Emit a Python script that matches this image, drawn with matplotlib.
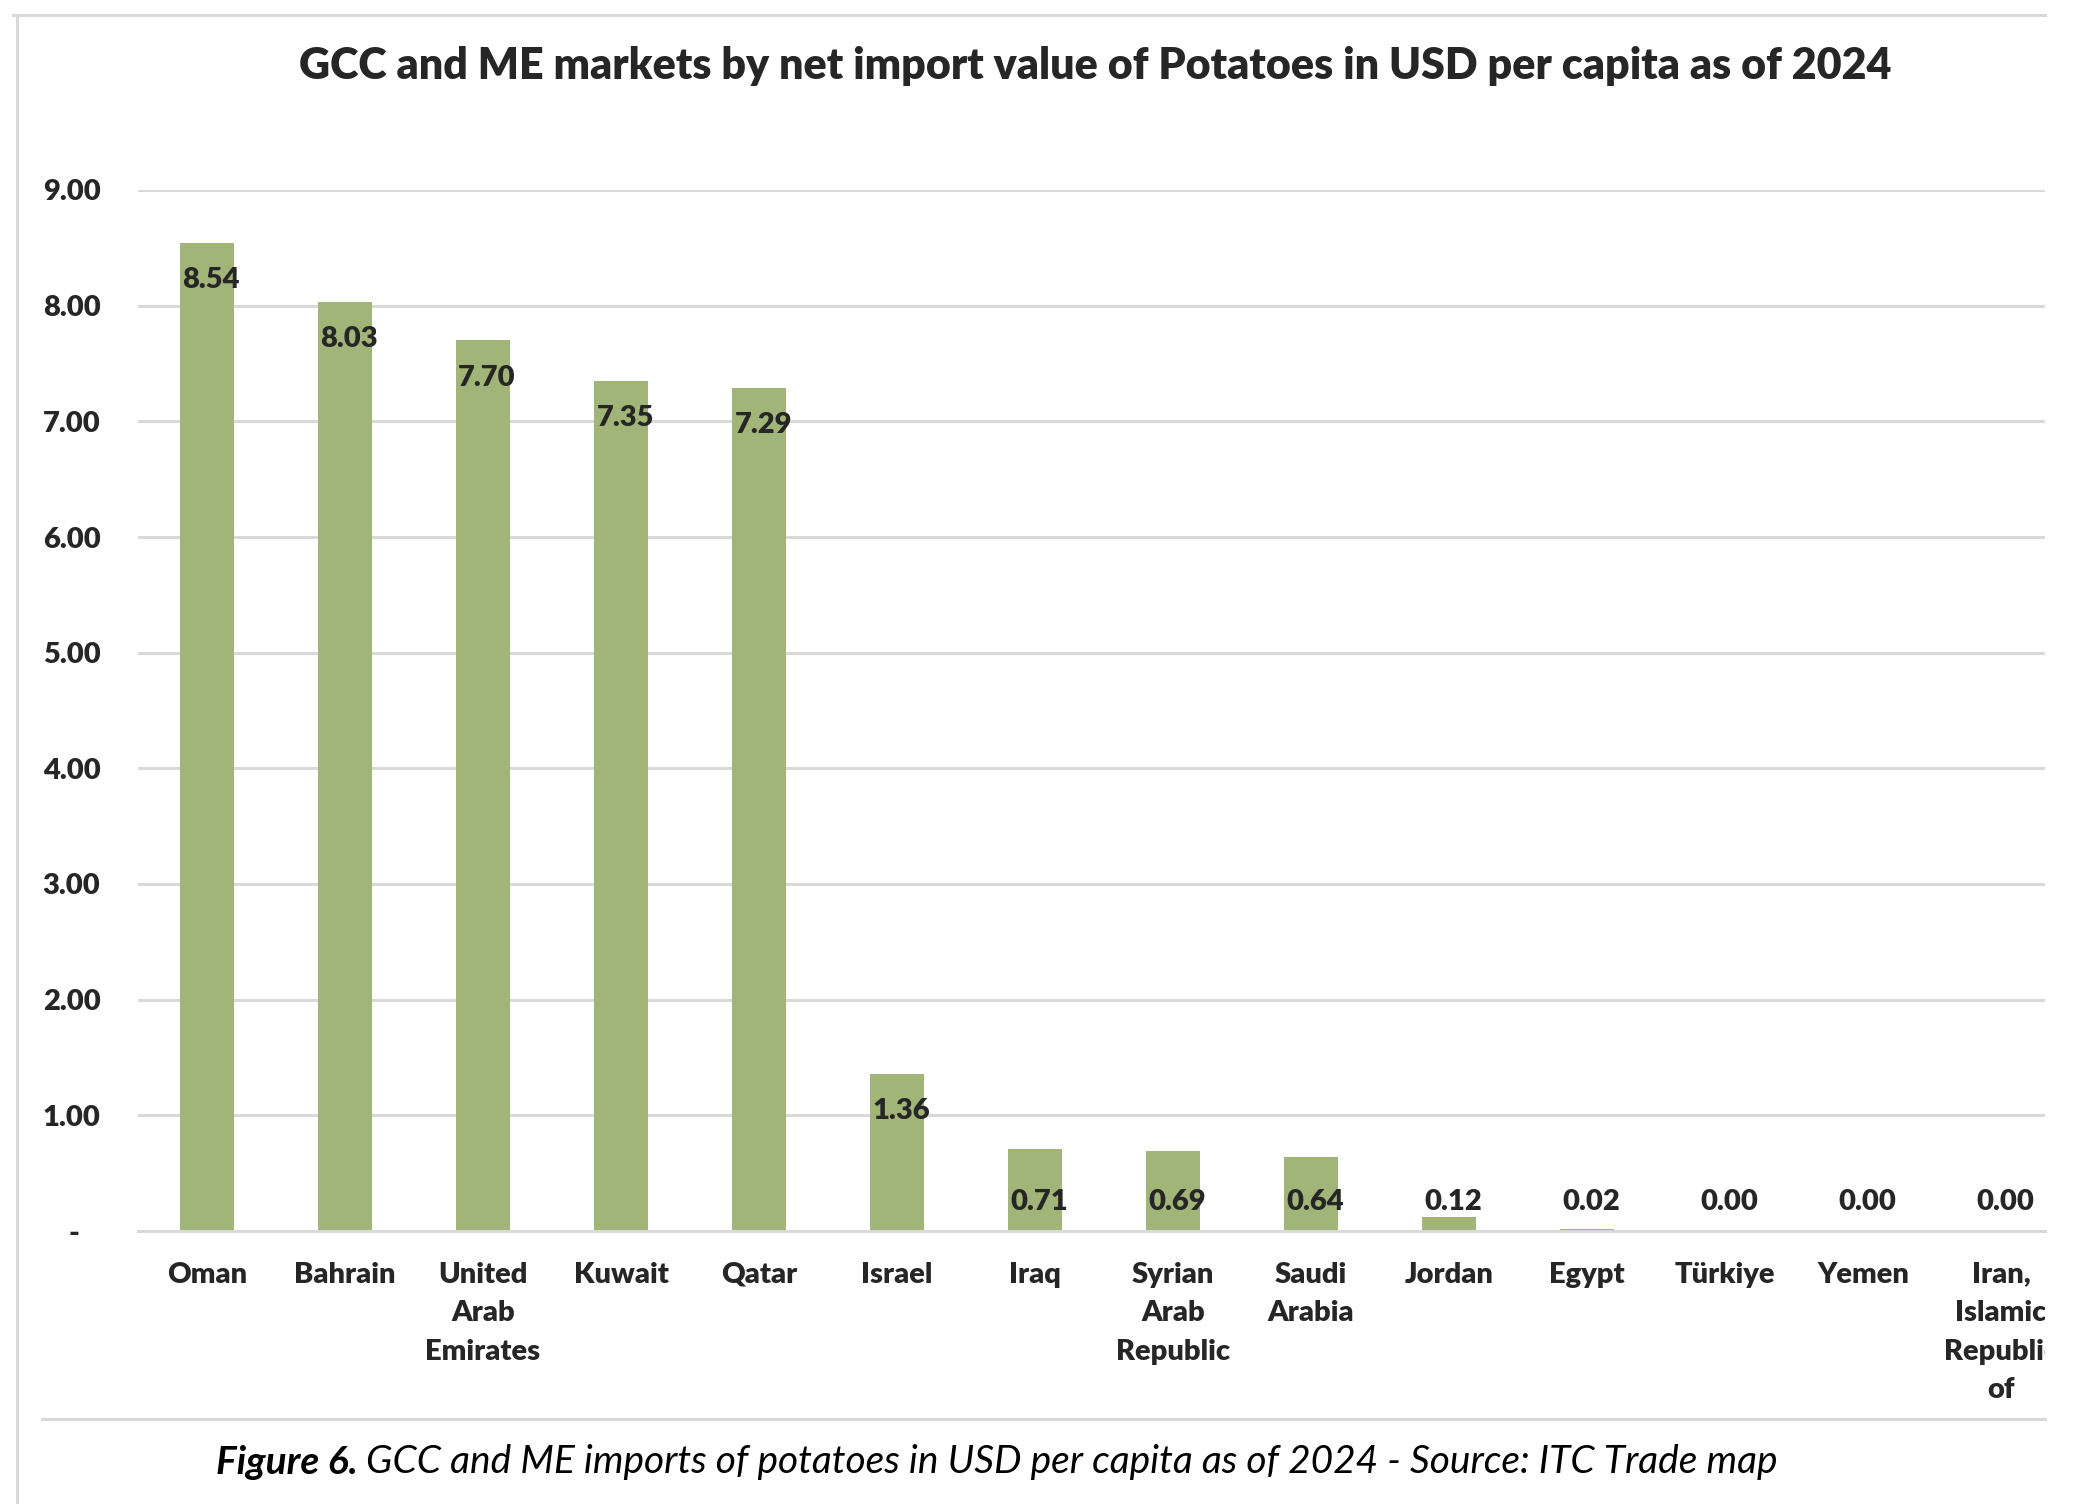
import matplotlib
matplotlib.use("Agg")
import matplotlib.pyplot as plt
from matplotlib.lines import Line2D
from matplotlib.transforms import Bbox, TransformedBbox

plt.rcParams['font.family'] = ['Lato', 'DejaVu Sans']

# data
countries = ['Oman', 'Bahrain', 'United\nArab\nEmirates', 'Kuwait', 'Qatar', 'Israel', 'Iraq',
             'Syrian\nArab\nRepublic', 'Saudi\nArabia', 'Jordan', 'Egypt', 'Türkiye', 'Yemen',
             'Iran,\nIslamic\nRepublic\nof']
values = [8.54, 8.03, 7.70, 7.35, 7.29, 1.36, 0.71, 0.69, 0.64, 0.12, 0.02, 0.00, 0.00, 0.00]
yticks = [0, 1, 2, 3, 4, 5, 6, 7, 8, 9]
title = 'GCC and ME markets by net import value of Potatoes in USD per capita as of 2024'

W, H = 2082, 1504
fig = plt.figure(figsize=(W / 200, H / 200), dpi=200)
text_col = '#262626'
grid_col = '#d9d9d9'
wt = 'heavy'

# frame lines of the pasted chart
fig.add_artist(Line2D([13 / W, 2045 / W], [1 - 15 / H, 1 - 15 / H], color=grid_col, lw=1.1))
fig.add_artist(Line2D([17 / W, 17 / W], [0, 1 - 15 / H], color=grid_col, lw=1.1))
fig.add_artist(Line2D([42 / W, 2045 / W], [1 - 1419 / H, 1 - 1419 / H], color=grid_col, lw=1.1))

ax = fig.add_axes([138 / W, 1 - 1231 / H, (2045 - 138) / W, (1231 - 190) / H])
x = list(range(len(countries)))
ax.bar(x, values, width=0.39, color='#a2b578', zorder=2)

ax.set_ylim(0, 9)
ax.set_xlim(-0.5, -0.5 + (2045 - 138) / 138)
ax.set_yticks(yticks)
ax.set_yticklabels(['-   '] + [f'{v:.2f}' for v in yticks[1:]], fontsize=10.5,
                   fontweight=wt, color=text_col)
ax.set_xticks(x)
ax.set_xticklabels(countries, fontsize=10.5, fontweight=wt, color=text_col,
                   linespacing=1.6, va='top')
ax.tick_params(axis='both', length=0)
ax.tick_params(axis='y', pad=13.5)
ax.tick_params(axis='x', pad=11)
ax.grid(axis='y', color=grid_col, lw=1.1, zorder=0)
ax.set_axisbelow(True)
for s in ['top', 'right', 'left']:
    ax.spines[s].set_visible(False)
ax.spines['bottom'].set_color(grid_col)
ax.spines['bottom'].set_linewidth(1.1)

# clip category labels at the right edge, as in the cropped original
clip = TransformedBbox(Bbox([[0, 0], [2045 / W, 1]]), fig.transFigure)
for lab in ax.get_xticklabels():
    lab.set_clip_box(clip)
    lab.set_clip_on(True)

for xi, v in zip(x, values):
    ly = v - 0.30 if v >= 1 else 0.27
    ax.text(xi + 0.03, ly, f'{v:.2f}', ha='center', va='center_baseline',
            fontsize=10.5, fontweight=wt, color=text_col, zorder=3)

fig.text(1095 / W, 1 - 66 / H, title, ha='center', va='center', fontsize=15.5,
         fontweight=wt, color=text_col)

cap_y = 1 - 1462 / H
t1 = fig.text(216 / W, cap_y, 'Figure 6.', ha='left', va='center', fontsize=14,
              fontweight='bold', style='italic', color='black')
fig.canvas.draw()
bb = t1.get_window_extent()
fig.text(bb.x1 / W + 8 / W, cap_y,
         'GCC and ME imports of potatoes in USD per capita as of 2024 - Source: ITC Trade map',
         ha='left', va='center', fontsize=14, style='italic', color='black')

fig.savefig('out.png', dpi=200)
